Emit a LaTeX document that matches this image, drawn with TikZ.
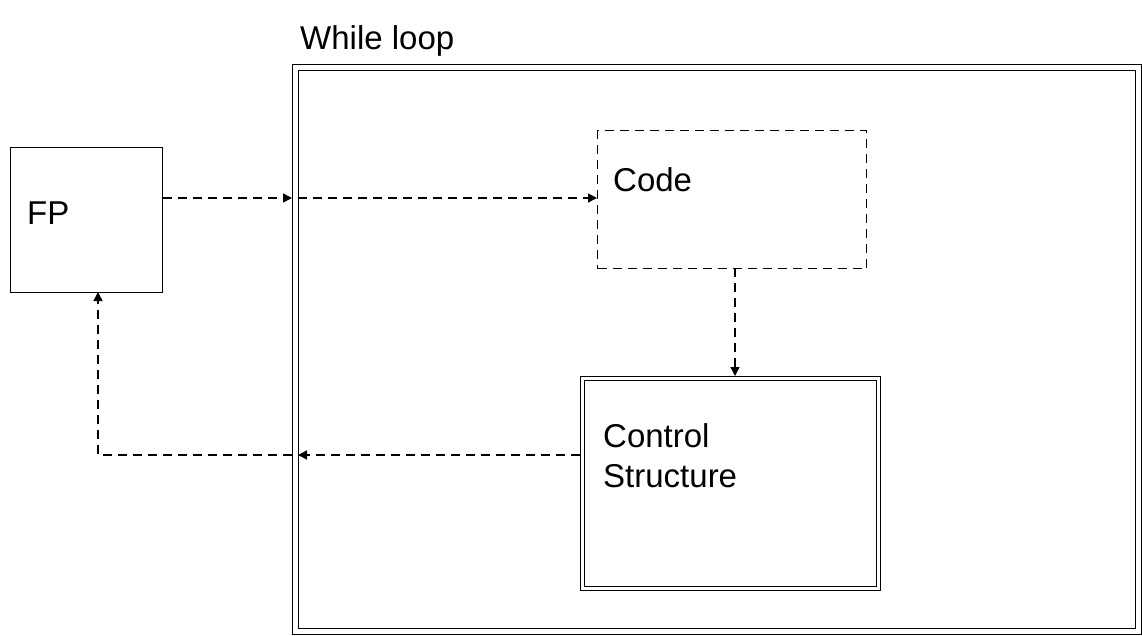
\documentclass[tikz,border=0pt]{standalone}
\usepackage{fontspec}
\setmainfont{Liberation Sans}
\usetikzlibrary{arrows.meta}
\begin{document}
\begin{tikzpicture}[x=1pt,y=-1pt,
  box/.style={draw,line width=1.4pt,inner sep=0pt,anchor=north west},
  dbox/.style={box,dashed,dash pattern=on 9pt off 6pt},
  lbl/.style={anchor=base west,inner sep=0pt,font=\fontsize{33}{40}\selectfont,align=left},
  conn/.style={line width=1.4pt,dash pattern=on 9pt off 6pt},
  arr/.style={conn,-{Triangle[length=9pt,width=9pt]}}]
\useasboundingbox (0,0) rectangle (1142,636);
% while loop double box
\node[box,minimum width=849pt,minimum height=570pt] (wo) at (292,64) {};
\node[box,minimum width=837pt,minimum height=558pt] (wi) at (298,70) {};
% FP
\node[box,minimum width=152pt,minimum height=145pt] (fp) at (10,147) {};
% Code
\node[dbox,minimum width=269pt,minimum height=138pt] (code) at (597,130) {};
% Control structure double box
\node[box,minimum width=300pt,minimum height=214pt] (cso) at (580,376) {};
\node[box,minimum width=292pt,minimum height=206pt] (csi) at (584,380) {};
% labels
\node[lbl] (twl) at (300,50) {While loop};
\node[lbl] (tfp) at (27,225) {FP};
\node[lbl] (tcode) at (613,192) {Code};
\node[lbl] (tcs) at (603,487) {Control\\Structure};
% connectors
\coordinate (fpin) at (98,292);
\draw[arr] (fp.east |- 0,198) -- (wo.west |- 0,198);
\draw[arr] (wi.west |- 0,198) -- (code.west |- 0,198);
\draw[arr] (735,268) -- (735,376);
\draw[arr] (cso.west |- 0,455) -- (wi.west |- 0,455);
\draw[arr] (wo.west |- 0,455) -- (98,455) -- (fpin);
\end{tikzpicture}
\end{document}
